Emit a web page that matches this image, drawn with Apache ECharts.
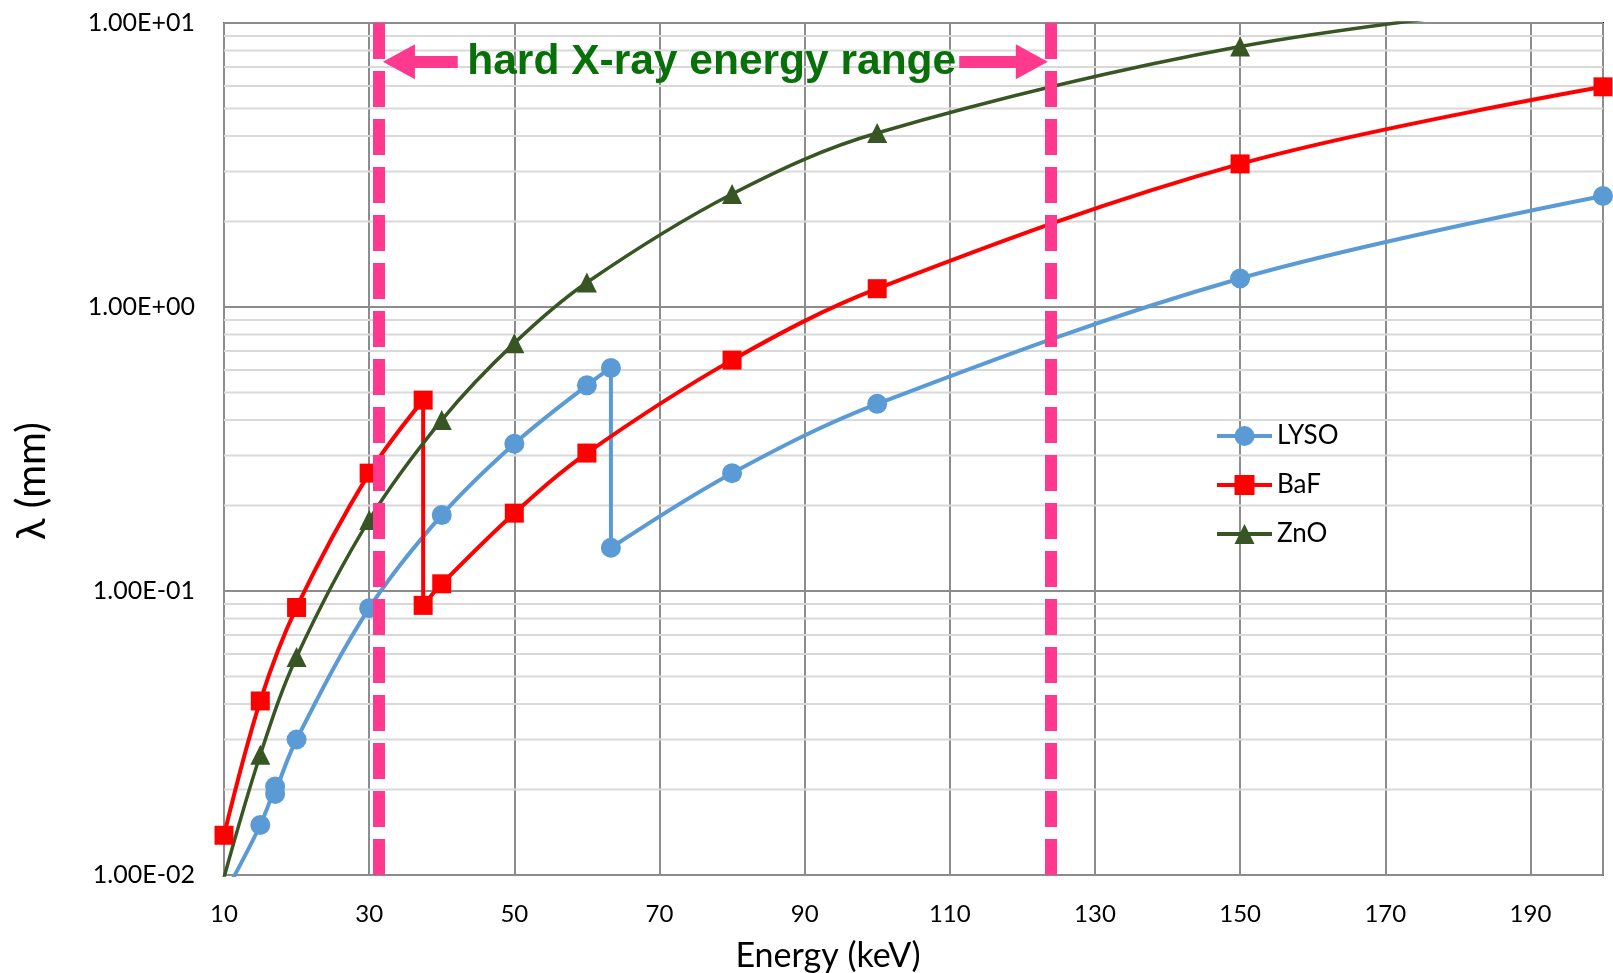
<!DOCTYPE html>
<html style="height: 100%">
<head>
    <meta charset="utf-8">
</head>
<body style="height: 100%; margin: 0">
    <div id="container" style="width: 100%; height: 100%;"></div>
    <script type="text/javascript" src="https://cdn.jsdelivr.net/npm/echarts@6/dist/echarts.min.js"></script>
    <script type="text/javascript">
        // attenuation length vs photon energy
        var lysoEnergy = [10, 15, 17.04, 17.04, 20, 30, 40, 50, 60, 63.31, 63.31, 80, 100, 150, 200];
        var lysoLambda = [0.0085, 0.015, 0.0205, 0.0193, 0.030, 0.087, 0.185, 0.33, 0.53, 0.61, 0.142, 0.26, 0.456, 1.26, 2.46];

        var bafEnergy = [10, 15, 20, 30, 37.44, 37.44, 40, 50, 60, 80, 100, 150, 200];
        var bafLambda = [0.0138, 0.041, 0.0875, 0.26, 0.47, 0.089, 0.106, 0.188, 0.306, 0.65, 1.16, 3.19, 5.96];

        var znoEnergy = [10, 15, 20, 30, 40, 50, 60, 80, 100, 150, 200];
        var znoLambda = [0.0098, 0.0265, 0.0586, 0.178, 0.40, 0.746, 1.22, 2.5, 4.1, 8.26, 12.2];

        var seriesNames = ['LYSO', 'BaF', 'ZnO'];

        // hard X-ray band (keV) and the arrow annotation
        var hardXrayRange = [31.3, 123.9];
        var arrowY = 7.3;
        var arrowLeft = [34.1, 42.2];     // arrow head centre, shaft end
        var arrowRight = [111.3, 121.3];  // shaft start, arrow head centre
        var bandLabel = 'hard X-ray energy range';
        var bandLabelAt = [77.2, 7.3];

        var decades = [0.01, 0.1, 1];

        var dom = document.getElementById("container");
        var myChart = echarts.init(dom);
        var font = 'Lato, "Noto Sans", sans-serif';
        var pink = '#ff3a8e';

        function pairs(xs, ys) {
            return xs.map(function (x, i) { return [x, ys[i]]; });
        }

        function sciLabel(v) {
            var e = Math.round(Math.log10(v));
            var m = v / Math.pow(10, e);
            var a = Math.abs(e);
            return m.toFixed(2) + 'E' + (e < 0 ? '-' : '+') + (a < 10 ? '0' : '') + a;
        }

        // light grid lines at 2..9 of every decade
        var minorGrid = [];
        decades.forEach(function (d) {
            for (var k = 2; k <= 9; k++) {
                minorGrid.push(+(d * k).toPrecision(3));
            }
        });
        var gridSeries = minorGrid.map(function (v) {
            return {
                type: 'line',
                data: [[10, v], [200, v]],
                symbol: 'none',
                silent: true,
                z: 1,
                lineStyle: { color: '#d9d9d9', width: 2 },
                tooltip: { show: false }
            };
        });

        function dataSeries(name, xs, ys, color, symbol, size, width, extra) {
            var s = {
                name: name,
                type: 'line',
                data: pairs(xs, ys),
                smooth: 0.35,
                clip: true,
                symbol: symbol,
                symbolSize: size,
                z: 3,
                itemStyle: { color: color },
                lineStyle: { color: color, width: width }
            };
            for (var k in extra) s[k] = extra[k];
            return s;
        }

        var dashed = { color: pink, width: 12, type: [36, 12], cap: 'butt' };

        option = {
            animation: false,
            textStyle: { fontFamily: font },
            grid: {
                left: 224, right: 10, top: 23, bottom: 98,
                outerBoundsMode: 'none',
                containLabel: false,
                show: true, borderColor: '#000', borderWidth: 2
            },
            legend: {
                data: seriesNames,
                orient: 'vertical',
                left: 1210,
                top: 418,
                padding: 5,
                itemWidth: 55,
                itemHeight: 25,
                itemGap: 23,
                lineStyle: { width: 4 },
                textStyle: { fontSize: 26, color: '#000', fontFamily: font }
            },
            xAxis: {
                type: 'value',
                min: 10,
                max: 200,
                interval: 20,
                axisLine: { show: true, onZero: false, lineStyle: { color: '#8c8c8c', width: 2 } },
                axisTick: { show: false },
                axisLabel: {
                    fontSize: 24, color: '#000', margin: 27,
                    formatter: function (v) { return v > 195 ? '' : String(v); }
                },
                splitLine: { show: true, lineStyle: { color: '#8c8c8c', width: 2 } },
                name: 'Energy (keV)',
                nameLocation: 'middle',
                nameGap: 64,
                nameTextStyle: { fontSize: 34, color: '#000', padding: [0, 171, 0, 0] }
            },
            yAxis: {
                type: 'log',
                logBase: 10,
                min: 0.01,
                max: 10,
                axisLine: { show: true, lineStyle: { color: '#8c8c8c', width: 2 } },
                axisTick: { show: false },
                axisLabel: { fontSize: 25, color: '#000', margin: 29, formatter: sciLabel },
                splitLine: { show: true, lineStyle: { color: '#8c8c8c', width: 2 } },
                name: 'λ (mm)',
                nameLocation: 'middle',
                nameRotate: 90,
                nameGap: 172,
                nameTextStyle: { fontSize: 40, color: '#000', padding: [0, 64, 0, 0] }
            },
            series: gridSeries.concat([
                dataSeries('LYSO', lysoEnergy, lysoLambda, '#5b9bd5', 'circle', 20, 4),
                dataSeries('BaF', bafEnergy, bafLambda, '#ff0000', 'rect', 19, 4),
                dataSeries('ZnO', znoEnergy, znoLambda, '#375623', 'triangle', 20, 3.5, {
                    markLine: {
                        silent: true,
                        symbol: ['none', 'none'],
                        label: { show: false },
                        lineStyle: { color: pink, width: 12, type: 'solid', cap: 'butt' },
                        data: [
                            { xAxis: hardXrayRange[0], lineStyle: dashed },
                            { xAxis: hardXrayRange[1], lineStyle: dashed },
                            [
                                { coord: [arrowLeft[1], arrowY] },
                                { coord: [arrowLeft[0], arrowY], symbol: 'triangle', symbolSize: [35, 32] }
                            ],
                            [
                                { coord: [arrowRight[0], arrowY] },
                                { coord: [arrowRight[1], arrowY], symbol: 'triangle', symbolSize: [35, 32] }
                            ]
                        ]
                    },
                    markPoint: {
                        silent: true,
                        symbol: 'rect',
                        symbolSize: 1,
                        itemStyle: { color: 'rgba(0,0,0,0)' },
                        label: {
                            show: true,
                            position: 'inside',
                            formatter: bandLabel,
                            fontSize: 42.5,
                            fontWeight: 'bold',
                            fontFamily: '"Liberation Sans", Arial, sans-serif',
                            color: '#087008'
                        },
                        data: [{ coord: bandLabelAt }]
                    }
                })
            ])
        };

        if (option && typeof option === "object") {
            myChart.setOption(option, true);
        }
    </script>
</body>
</html>
